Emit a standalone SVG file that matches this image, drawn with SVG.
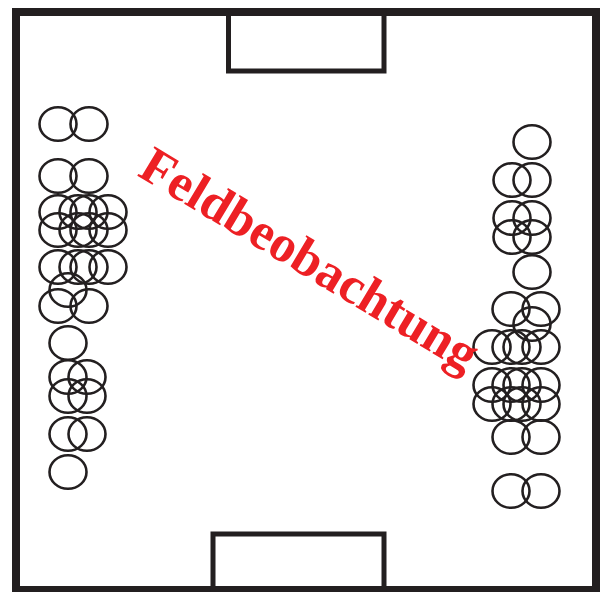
<svg xmlns="http://www.w3.org/2000/svg" width="606" height="592" viewBox="0 0 606 592">
<style>
.frame{fill:none;stroke:#231f20;stroke-width:8}
.goal{fill:none;stroke:#231f20;stroke-width:5}
.p{fill:none;stroke:#231f20;stroke-width:2.6}
.lbl{font-family:"Liberation Serif","Times New Roman",serif;font-weight:bold;font-size:52px;fill:#ed2024}
</style>
<defs>
<ellipse id="c" class="p" cx="0" cy="0" rx="18.5" ry="16.8"/>
</defs>
<g id="field">
<rect class="frame" x="16" y="12" width="580" height="578"/>
<rect class="goal" x="228.5" y="12" width="155.5" height="59"/>
<rect class="goal" x="213" y="534" width="171" height="56"/>
</g>
<g id="left-players">
<use href="#c" x="58" y="124"/><use href="#c" x="89" y="124"/>
<use href="#c" x="58" y="176"/><use href="#c" x="89" y="176"/>
<use href="#c" x="58" y="212"/><use href="#c" x="78" y="212"/><use href="#c" x="89" y="212"/><use href="#c" x="108" y="212"/>
<use href="#c" x="58" y="230"/><use href="#c" x="78" y="230"/><use href="#c" x="89" y="230"/><use href="#c" x="108" y="230"/>
<use href="#c" x="58" y="267"/><use href="#c" x="78" y="267"/><use href="#c" x="89" y="267"/><use href="#c" x="108" y="267"/>
<use href="#c" x="68" y="290"/>
<use href="#c" x="58" y="306"/><use href="#c" x="89" y="306"/>
<use href="#c" x="68" y="343"/>
<use href="#c" x="68" y="377"/><use href="#c" x="87" y="377"/>
<use href="#c" x="68" y="396"/><use href="#c" x="87" y="396"/>
<use href="#c" x="68" y="434"/><use href="#c" x="87" y="434"/>
<use href="#c" x="68" y="472"/>
</g>
<g id="right-players">
<use href="#c" x="532" y="142"/>
<use href="#c" x="512" y="180"/><use href="#c" x="532" y="180"/>
<use href="#c" x="512" y="218"/><use href="#c" x="532" y="218"/>
<use href="#c" x="512" y="237"/><use href="#c" x="532" y="237"/>
<use href="#c" x="532" y="272"/>
<use href="#c" x="511" y="309"/><use href="#c" x="541" y="309"/>
<use href="#c" x="532" y="324"/>
<use href="#c" x="492" y="347"/><use href="#c" x="511" y="347"/><use href="#c" x="522" y="347"/><use href="#c" x="541" y="347"/>
<use href="#c" x="492" y="385"/><use href="#c" x="511" y="385"/><use href="#c" x="522" y="385"/><use href="#c" x="541" y="385"/>
<use href="#c" x="492" y="404"/><use href="#c" x="511" y="404"/><use href="#c" x="522" y="404"/><use href="#c" x="541" y="404"/>
<use href="#c" x="511" y="437"/><use href="#c" x="541" y="437"/>
<use href="#c" x="511" y="491"/><use href="#c" x="541" y="491"/>
</g>
<g id="label">
<text class="lbl" x="301" y="274" text-anchor="middle" transform="rotate(31 301 274)">Feldbeobachtung</text>
</g>
</svg>
